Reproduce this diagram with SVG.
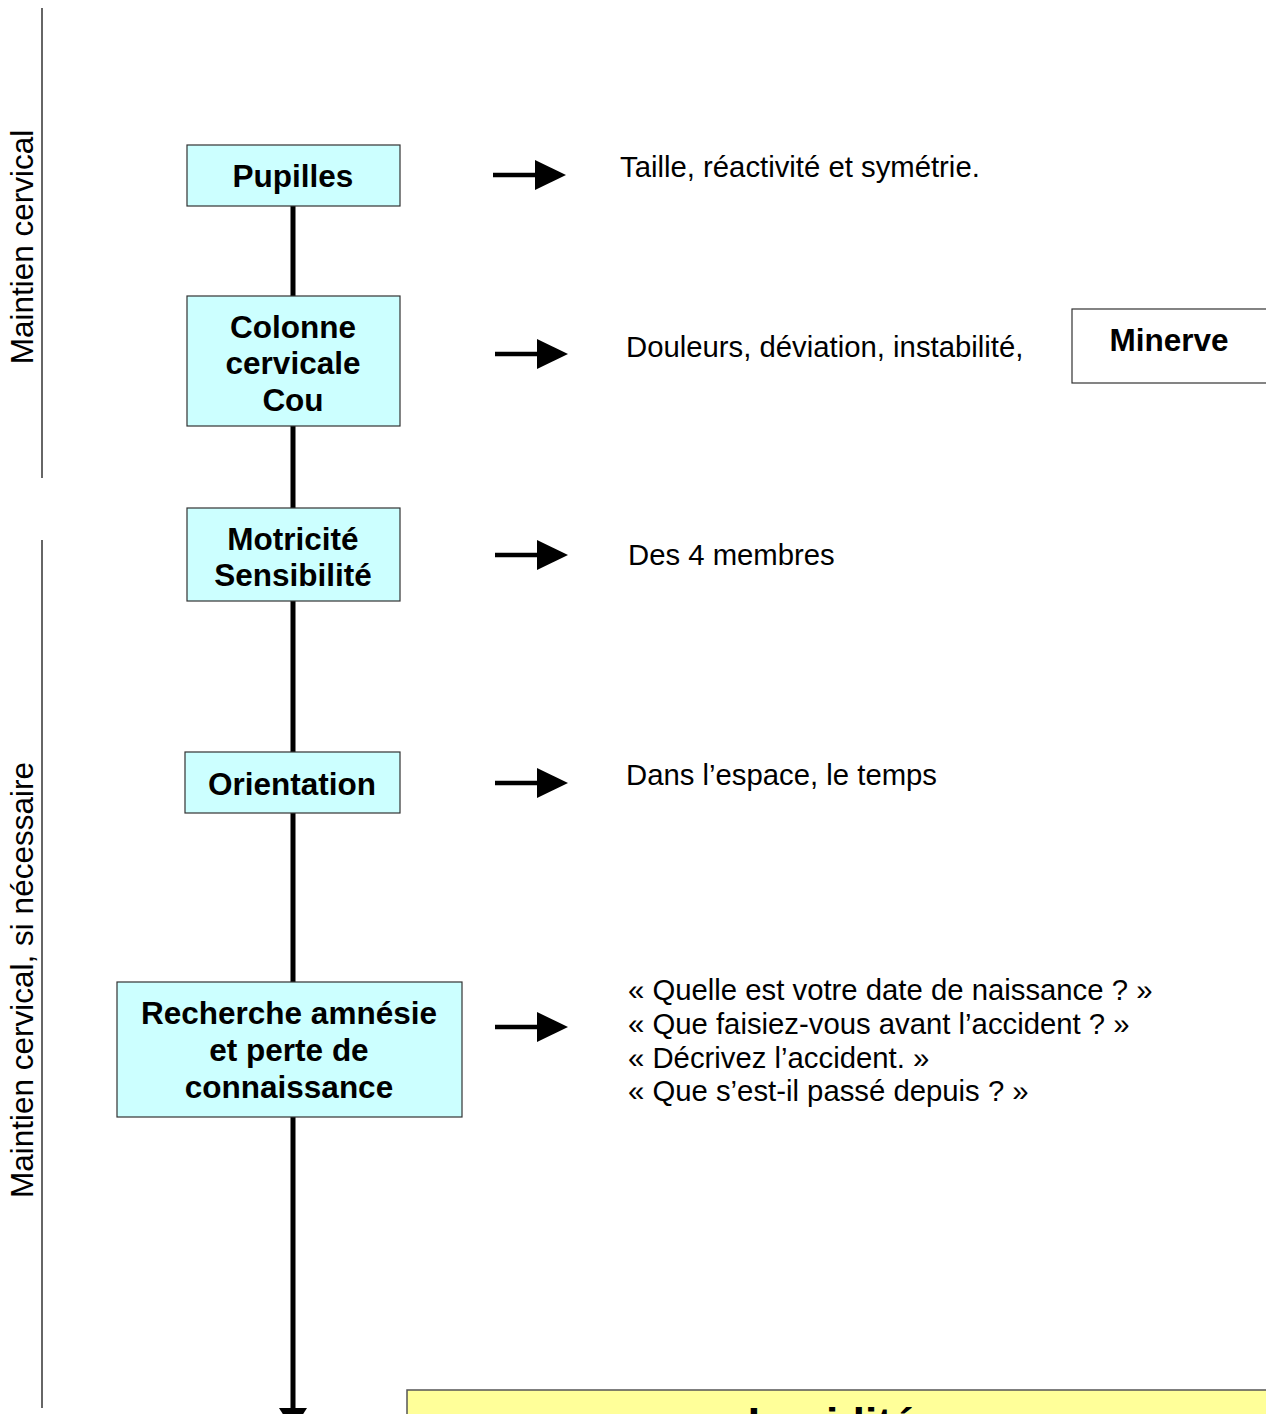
<svg xmlns="http://www.w3.org/2000/svg" width="1266" height="1414" viewBox="0 0 1266 1414">
  <style>
    .box { fill: #CCFFFF; stroke: #333333; stroke-width: 1.2; }
    .lbl { font-family: "Liberation Sans", Arial, sans-serif; font-weight: bold; font-size: 31.5px; fill: #000; text-anchor: middle; }
    .txt { font-family: "Liberation Sans", Arial, sans-serif; font-size: 29.3px; fill: #000; }
    .side { font-family: "Liberation Sans", Arial, sans-serif; font-size: 31.5px; fill: #000; text-anchor: middle; }
    .spine { stroke: #000; stroke-width: 5; fill: none; }
    .shaft { stroke: #000; stroke-width: 4.5; fill: none; marker-end: url(#tri); }
    .bracket { stroke: #333; stroke-width: 1.5; fill: none; }
  </style>
  <defs>
    <!-- solid head for the short horizontal arrows -->
    <marker id="tri" viewBox="0 0 31 30" refX="0" refY="15" markerWidth="31" markerHeight="30" markerUnits="userSpaceOnUse" orient="auto">
      <path d="M0,0 L31,15 L0,30 z" fill="#000"/>
    </marker>
  </defs>

  <rect width="1266" height="1414" fill="#fff"/>

  <!-- side brackets -->
  <g id="side-labels">
    <line class="bracket" x1="42" y1="8" x2="42" y2="478"/>
    <text class="side" transform="translate(33,247) rotate(-90)">Maintien cervical</text>
    <line class="bracket" x1="42" y1="540" x2="42" y2="1408"/>
    <text class="side" transform="translate(33,980) rotate(-90)">Maintien cervical, si nécessaire</text>
  </g>

  <!-- connectors -->
  <g id="connectors">
    <line class="spine" x1="293" y1="206" x2="293" y2="1410"/>
    <polygon points="279,1408 307,1408 293,1430" fill="#000"/>
    <line class="shaft" x1="493" y1="175" x2="535" y2="175"/>
    <line class="shaft" x1="495" y1="354" x2="537" y2="354"/>
    <line class="shaft" x1="495" y1="555" x2="537" y2="555"/>
    <line class="shaft" x1="495" y1="783" x2="537" y2="783"/>
    <line class="shaft" x1="495" y1="1027" x2="537" y2="1027"/>
  </g>

  <!-- step nodes -->
  <g id="node-pupilles">
    <rect class="box" x="187" y="145" width="213" height="61"/>
    <text class="lbl" x="293" y="187">Pupilles</text>
  </g>
  <g id="node-colonne">
    <rect class="box" x="187" y="296" width="213" height="130"/>
    <text class="lbl" x="293" y="338">Colonne</text>
    <text class="lbl" x="293" y="374">cervicale</text>
    <text class="lbl" x="293" y="411">Cou</text>
  </g>
  <g id="node-motricite">
    <rect class="box" x="187" y="508" width="213" height="93"/>
    <text class="lbl" x="293" y="550">Motricité</text>
    <text class="lbl" x="293" y="586">Sensibilité</text>
  </g>
  <g id="node-orientation">
    <rect class="box" x="185" y="752" width="215" height="61"/>
    <text class="lbl" x="292" y="795">Orientation</text>
  </g>
  <g id="node-recherche">
    <rect class="box" x="117" y="982" width="345" height="135"/>
    <text class="lbl" x="289" y="1024">Recherche amnésie</text>
    <text class="lbl" x="289" y="1061">et perte de</text>
    <text class="lbl" x="289" y="1098">connaissance</text>
  </g>
  <g id="node-minerve">
    <rect x="1072" y="309" width="200" height="74" fill="#fff" stroke="#333" stroke-width="1.2"/>
    <text class="lbl" x="1169" y="351">Minerve</text>
  </g>
  <g id="node-lucidite">
    <rect x="407" y="1390" width="870" height="60" fill="#FFFF99" stroke="#555" stroke-width="1.5"/>
    <text class="lbl" x="832" y="1439" style="font-size:44px">Lucidité</text>
  </g>

  <!-- descriptions -->
  <g id="descriptions">
    <text class="txt" x="620" y="177">Taille, réactivité et symétrie.</text>
    <text class="txt" x="626" y="357">Douleurs, déviation, instabilité,</text>
    <text class="txt" x="628" y="565">Des 4 membres</text>
    <text class="txt" x="626" y="785">Dans l’espace, le temps</text>
    <text class="txt" x="628" y="1000">« Quelle est votre date de naissance ? »</text>
    <text class="txt" x="628" y="1034">« Que faisiez-vous avant l’accident ? »</text>
    <text class="txt" x="628" y="1068">« Décrivez l’accident. »</text>
    <text class="txt" x="628" y="1101">« Que s’est-il passé depuis ? »</text>
  </g>
</svg>
